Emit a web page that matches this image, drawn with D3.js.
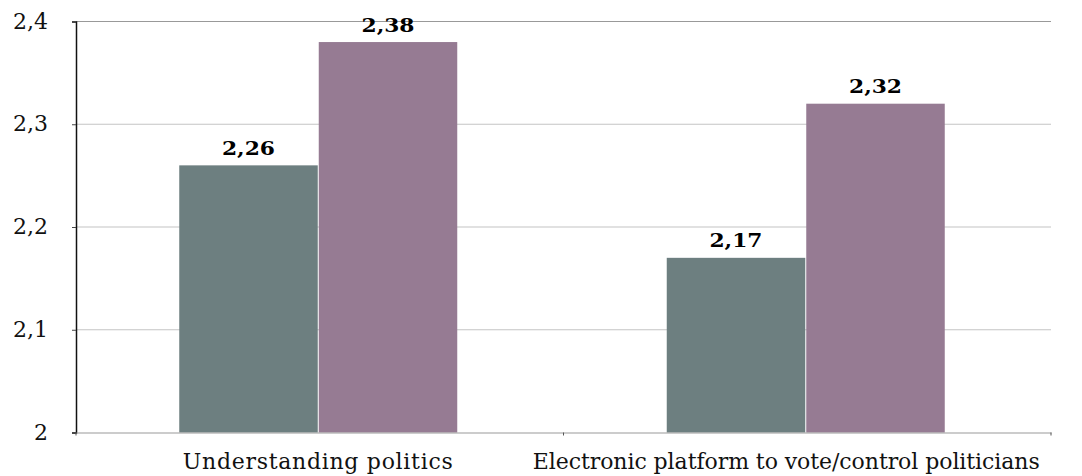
<!DOCTYPE html>
<html><head><meta charset="utf-8">
<script src="https://cdn.jsdelivr.net/npm/d3@7"></script>
<style>body{margin:0;background:#fff}svg{display:block}</style>
</head><body>
<svg id="c" width="1082" height="476"></svg>
<script>
const categories = ["Understanding politics", "Electronic platform to vote/control politicians"];
const seriesNames = ["A", "B"];
const seriesA = [2.26, 2.17];
const seriesB = [2.38, 2.32];
const yTicks = [2, 2.1, 2.2, 2.3, 2.4];
const colors = ["#6d7f80", "#967b93"];

const svg = d3.select("#c");
const m = {l: 76, r: 1051, t: 21.5, b: 432.5};
const font = "'DejaVu Serif', serif";
const fmt = v => d3.format(".2f")(v).replace(".", ",");
const fmtT = v => (v === 2 ? "2" : d3.format(".1f")(v).replace(".", ","));

const x = d3.scaleBand().domain(categories).range([m.l, m.r]).paddingInner(0).paddingOuter(0);
const x1 = d3.scaleBand().domain(seriesNames).range([0, 278]).paddingInner(0.0072);
const y = d3.scaleLinear().domain([2, 2.4]).range([m.b, m.t]);

// gridlines
svg.append("g").selectAll("line").data(yTicks.filter(d => d > 2)).join("line")
  .attr("x1", m.l).attr("x2", m.r).attr("y1", d => y(d)).attr("y2", d => y(d))
  .attr("stroke", d => d === 2.4 ? "#999" : "#c4c4c4").attr("stroke-width", 1.2);

// y axis
const ya = svg.append("g").attr("transform", `translate(${m.l},0)`)
  .call(d3.axisLeft(y).tickValues(yTicks).tickFormat(fmtT).tickSize(4).tickPadding(24));
ya.select(".domain").attr("stroke", "#111").attr("stroke-width", 1.5);
ya.selectAll(".tick line").attr("stroke", "#444");
ya.selectAll("text").attr("font-family", font).attr("font-size", 22).attr("fill", "#111")
  .attr("dy", "0.3em");

// bars
const data = categories.map((c, i) => ({c, vals: [seriesA[i], seriesB[i]]}));
const g = svg.append("g");
data.forEach(d => {
  const gx = x(d.c) + (x.bandwidth() - 278) / 2 - 1.5;
  d.vals.forEach((v, j) => {
    const bx = gx + x1(seriesNames[j]);
    g.append("rect").attr("x", bx).attr("y", y(v)).attr("width", x1.bandwidth())
      .attr("height", y(2) - y(v)).attr("fill", colors[j]);
    g.append("text").attr("x", bx + x1.bandwidth() / 2).attr("y", y(v) - 10.5)
      .attr("text-anchor", "middle").attr("font-family", font).attr("font-weight", "bold")
      .attr("font-size", 19).attr("textLength", 53).attr("lengthAdjust", "spacingAndGlyphs")
      .attr("fill", "#000").text(fmt(v));
  });
});

// x axis
const xa = svg.append("g").attr("transform", `translate(0,${m.b})`)
  .call(d3.axisBottom(x).tickSize(0).tickPadding(0));
xa.select(".domain").attr("stroke", "#999").attr("stroke-width", 1.2);
const labelW = [270, 507];
const labelDx = [-2, -21];
xa.selectAll("text").attr("font-family", font).attr("font-size", 22).attr("fill", "#111")
  .attr("dy", null).attr("y", 36.5)
  .attr("dx", (d, i) => labelDx[i])
  .attr("textLength", (d, i) => labelW[i]).attr("lengthAdjust", "spacing");
svg.append("g").selectAll("line").data([m.l, x(categories[1]), m.r]).join("line")
  .attr("x1", d => d).attr("x2", d => d).attr("y1", m.b).attr("y2", m.b + 3)
  .attr("stroke", "#555");
</script>
</body></html>
